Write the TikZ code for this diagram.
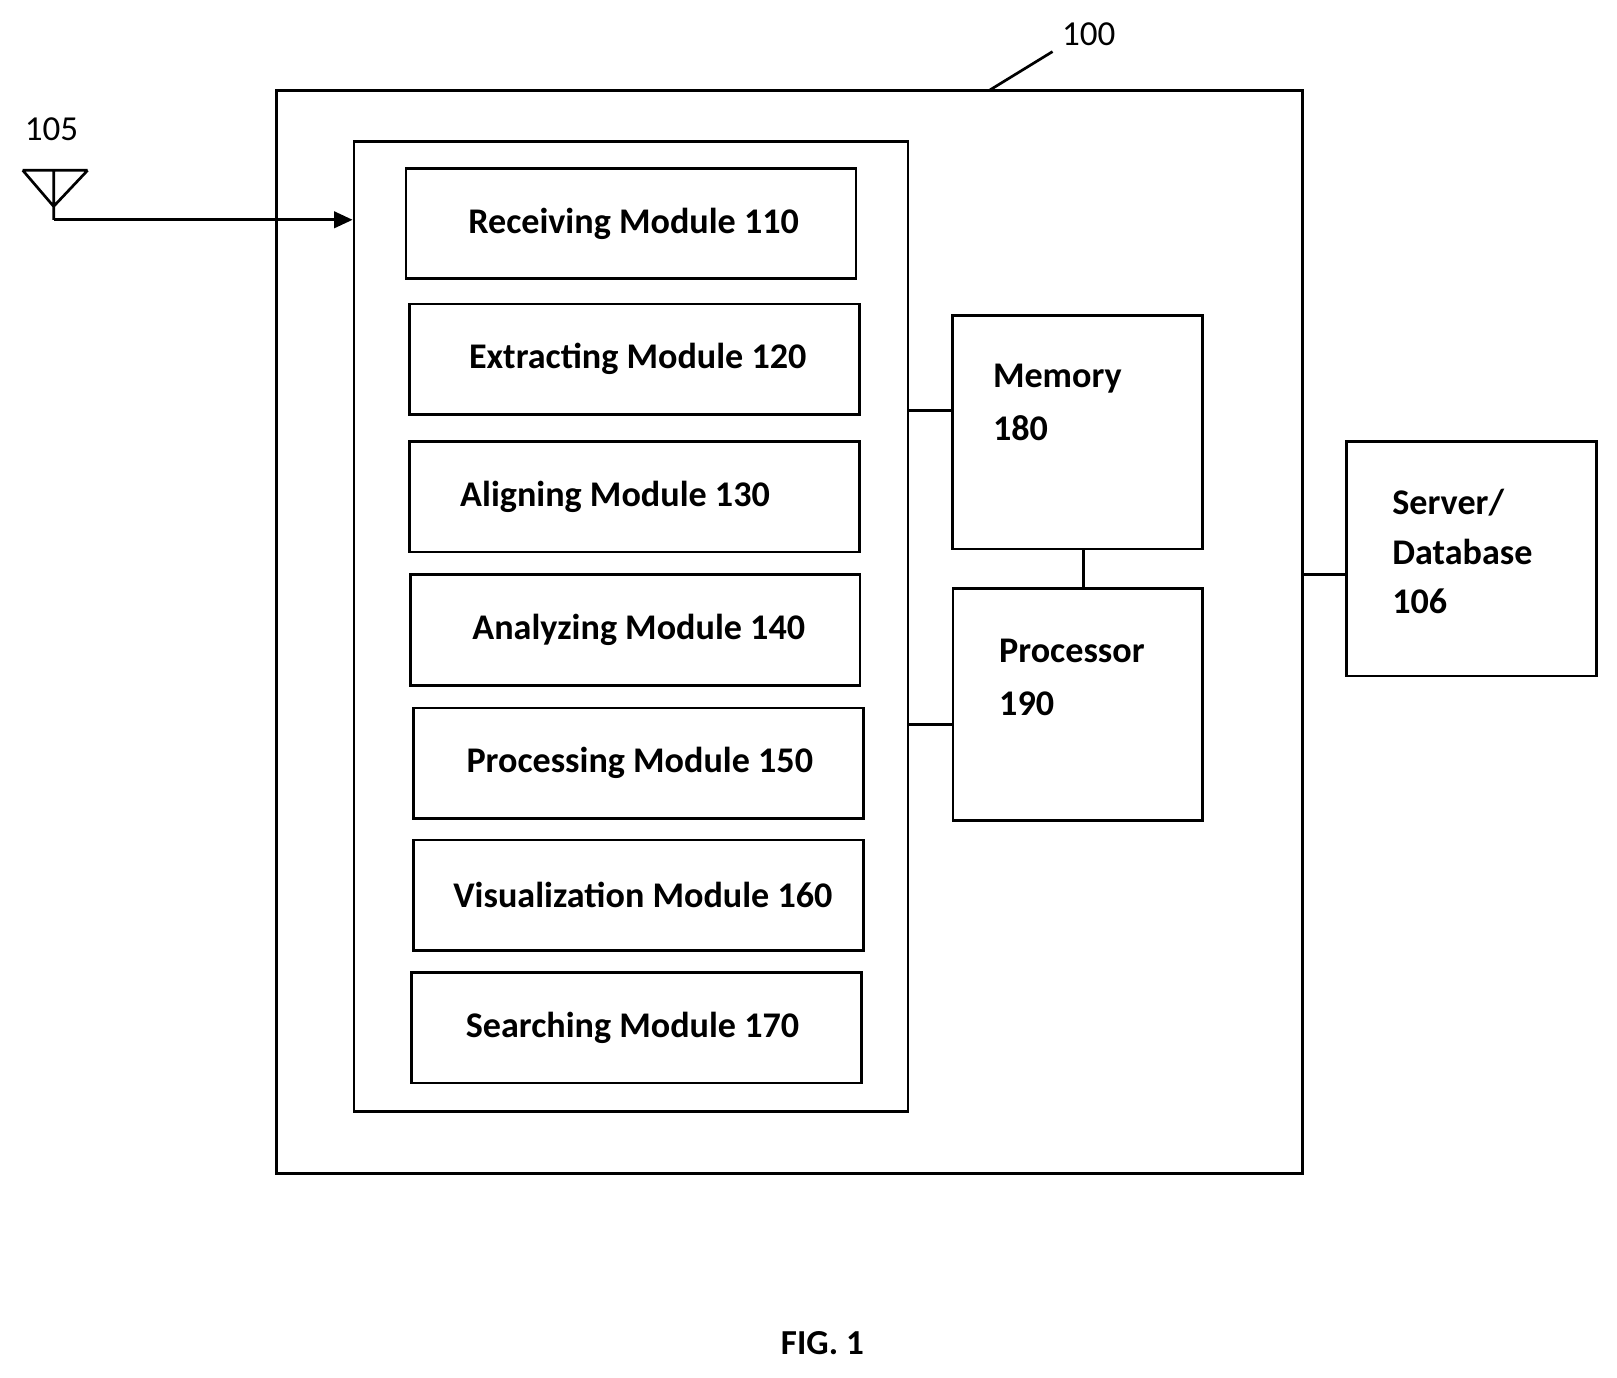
\documentclass[tikz,border=0pt]{standalone}
\usepackage{fontspec}
\setmainfont{Carlito}
\usetikzlibrary{arrows.meta}
\begin{document}
\begin{tikzpicture}[x=1pt,y=-1pt,line width=2.6pt,
  module/.style={draw,minimum width=436pt,minimum height=107pt},
  mtext/.style={font=\bfseries\fontsize{35}{40}\selectfont},
  block/.style={draw,minimum width=242pt,minimum height=226pt},
  blocktext/.style={anchor=north west,align=left,inner sep=0pt,font=\bfseries\fontsize{35}{51}\selectfont},
  lbl/.style={font=\fontsize{34}{40}\selectfont}]
\useasboundingbox (0,0) rectangle (1567,1335);
%Caixas
\node[draw,minimum width=994pt,minimum height=1049pt] (device) at (765,612.5) {};
\node[draw,minimum width=537pt,minimum height=940pt] (modules) at (611.5,607) {};
\node[module] (recv) at (611.5,216.5) {};
\node[module] (extr) at (615,348) {};
\node[module] (align) at (615,481.5) {};
\node[module] (anal) at (615.5,610.5) {};
\node[module] (proc) at (618.5,739.5) {};
\node[module] (visu) at (619,867.5) {};
\node[module] (srch) at (617,996) {};
\node[mtext] at (614,216.5) {Receiving Module 110};
\node[mtext] at (618,348) {Extracting Module 120};
\node[mtext] at (596,481.5) {Aligning Module 130};
\node[mtext] at (619,610.5) {Analyzing Module 140};
\node[mtext] at (620,739.5) {Processing Module 150};
\node[mtext] at (623,867.5) {Visualization Module 160};
\node[mtext] at (613,996) {Searching Module 170};
\node[block] (mem) at (1044,419) {};
\node[block,minimum height=225pt] (cpu) at (1044.5,682.5) {};
\node[block,minimum height=227pt] (server) at (1426,541.5) {};
%Textos
\node[blocktext] at (961,352) {Memory\\180};
\node[blocktext] at (967,618) {Processor\\190};
\node[blocktext,font=\bfseries\fontsize{35}{48}\selectfont] at (1348,473) {Server/\\Database\\106};
\node[lbl] (n100) at (1055,33) {100};
\node[lbl] (n105) at (50,125) {105};
\node[font=\bfseries\fontsize{34}{40}\selectfont] (fig) at (797,1302) {FIG. 1};
%Ligacoes
\draw (958,88) -- (1020,50);
\draw (modules.east |- 0,398) -- (mem.west |- 0,398);
\draw (modules.east |- 0,702) -- (cpu.west |- 0,702);
\draw (mem.south -| 1050,0) -- (cpu.north -| 1050,0);
\draw (device.east |- 0,557) -- (server.west |- 0,557);
%Antena
\coordinate (ant) at (52,213);
\draw (22,165) -- (85,165) (22,165) -- (52,200) -- (85,165) (52,165) -- (ant);
\draw[-{Triangle[length=18pt,width=16pt]}] (ant) -- (modules.west |- ant);
\end{tikzpicture}
\end{document}
